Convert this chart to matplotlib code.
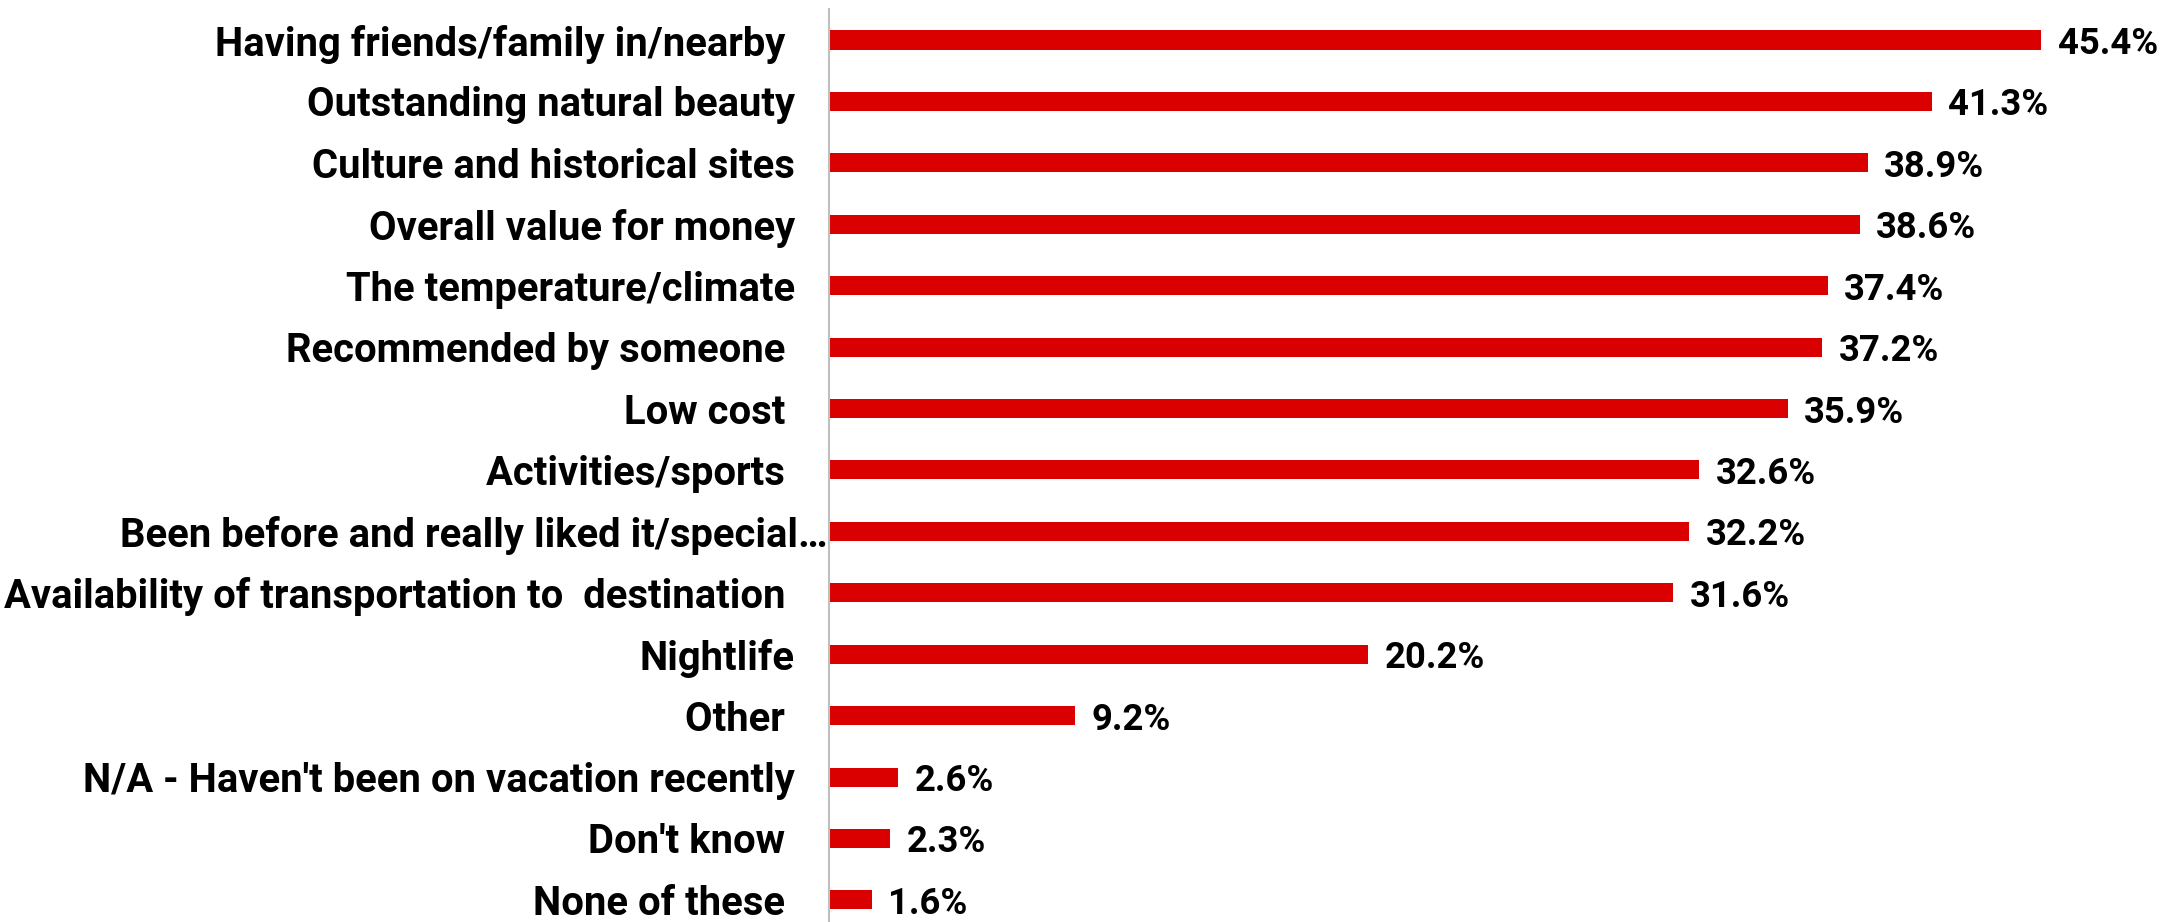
import matplotlib
matplotlib.use("Agg")
import matplotlib.pyplot as plt
from matplotlib.transforms import blended_transform_factory, offset_copy

categories = [
    "Having friends/family in/nearby ",
    "Outstanding natural beauty",
    "Culture and historical sites",
    "Overall value for money",
    "The temperature/climate",
    "Recommended by someone ",
    "Low cost ",
    "Activities/sports ",
    "Been before and really liked it/special\u2026",
    "Availability of transportation to  destination ",
    "Nightlife",
    "Other ",
    "N/A - Haven't been on vacation recently",
    "Don't know ",
    "None of these ",
]
values = [45.4, 41.3, 38.9, 38.6, 37.4, 37.2, 35.9, 32.6, 32.2, 31.6, 20.2, 9.2, 2.6, 2.3, 1.6]
value_labels = [f"{v:.1f}%" for v in values]

BAR_COLOR = "#DA0000"
FONT = "Roboto"

W, H, DPI = 2167, 922, 100
fig = plt.figure(figsize=(W / DPI, H / DPI), dpi=DPI)
ax = fig.add_axes([829 / W, 0.0, 1 - 829 / W, 1 - 9 / H])

ypos = list(range(len(categories)))
ax.barh(ypos, values, height=0.31, color=BAR_COLOR, zorder=2)
ax.set_xlim(0, (W - 829) / 26.7)
ax.set_ylim(14.36, -0.505)

for s in ["top", "right", "bottom"]:
    ax.spines[s].set_visible(False)
ax.spines["left"].set_color("#BFBFBF")
ax.spines["left"].set_linewidth(1.5)
ax.set_xticks([])
ax.set_yticks([])

# category labels
trans = blended_transform_factory(ax.transAxes, ax.transData)
for i, cat in enumerate(categories):
    pad = -2 if cat.endswith("\u2026") else -34
    t = offset_copy(trans, fig=fig, x=pad, y=0, units="dots")
    ax.text(0, i, cat, transform=t, ha="right", va="center_baseline",
            fontsize=28.8, fontweight="bold", family=FONT, color="black")

# value labels
for i, (v, lab) in enumerate(zip(values, value_labels)):
    ax.annotate(lab, (v, i), xytext=(12, 0), textcoords="offset points",
                ha="left", va="center_baseline", fontsize=26.3, fontweight="bold",
                family=FONT, color="black", annotation_clip=False)

fig.savefig("out.png", dpi=DPI)
